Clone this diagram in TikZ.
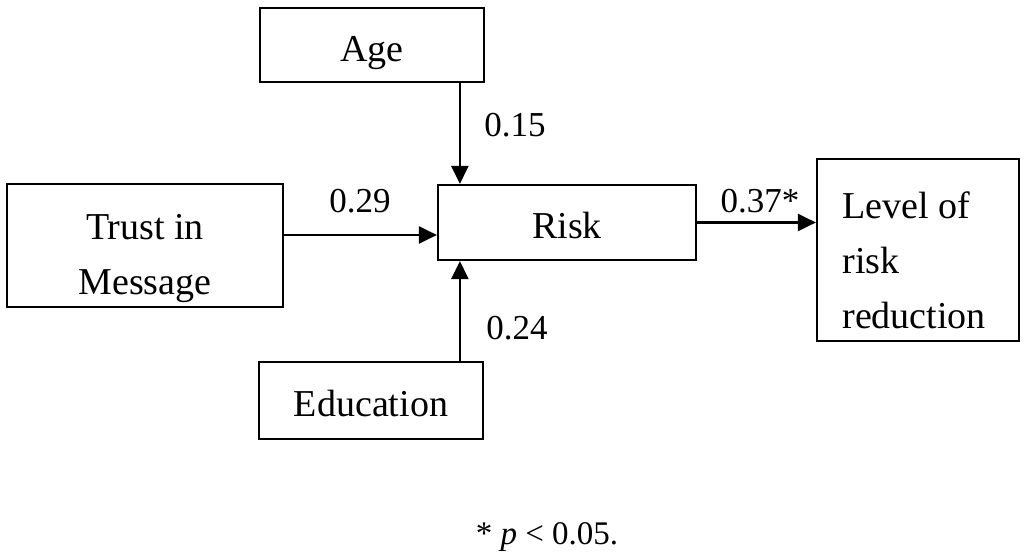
\documentclass[tikz,border=0pt]{standalone}
\usepackage{fontspec}
\setmainfont{Liberation Serif}
\usepackage{tikz}
\usetikzlibrary{positioning}
\usetikzlibrary{arrows.meta}

\begin{document}
\begin{tikzpicture}[x=0.5pt,y=-0.5pt,
        box/.style={draw,line width=1.1pt,inner sep=0pt,text height=16.5pt,text depth=0pt,
          font=\fontsize{19}{27}\selectfont},
        txt/.style={inner sep=0pt,font=\fontsize{19}{27.5}\selectfont},
        arr/.style={line width=1.2pt,-{Triangle[length=9pt,width=8.5pt]}},
        lbl/.style={font=\fontsize{17.5}{21}\selectfont}]
        \useasboundingbox (0,0) rectangle (1024,560);
        \node[box,minimum width=112pt,minimum height=37pt] (age) at (372,45) {Age};
        \node[box,minimum width=129pt,minimum height=37.5pt] (risk) at (567,222.5) {Risk};
        \node[box,minimum width=138pt,minimum height=61.5pt] (trust) at (145,245.5) {};
        \node[txt,align=center] (trusttxt) at (145,259) {Trust in\\Message};
        \node[box,minimum width=112pt,minimum height=38.5pt] (edu) at (371,400.5) {Education};
        \node[box,minimum width=101pt,minimum height=91pt] (level) at (918,250) {};
        \node[txt,align=left,anchor=west] (leveltxt) at (842,260) {Level of\\risk\\reduction};
        \draw[arr] ([xshift=11.5pt]risk.north west |- age.south) -- ([xshift=11.5pt]risk.north west);
        \draw[arr] ([xshift=11.5pt]risk.south west |- edu.north) -- ([xshift=11.5pt]risk.south west);
        \draw[arr] ([yshift=5.25pt]trust.east) coordinate (t) -- (t -| risk.west);
        \draw[arr] (risk.east) -- (risk.east -| level.west);
        \node[lbl] (l1) at (515,125) {0.15};
        \node[lbl] (l2) at (360,201) {0.29};
        \node[lbl] (l3) at (517,328) {0.24};
        \node[lbl] (l4) at (760,201) {0.37*};
        \node[font=\fontsize{16.5}{21}\selectfont] (note) at (547,537) {* \textit{p} < 0.05.};
    \end{tikzpicture}
\end{document}
